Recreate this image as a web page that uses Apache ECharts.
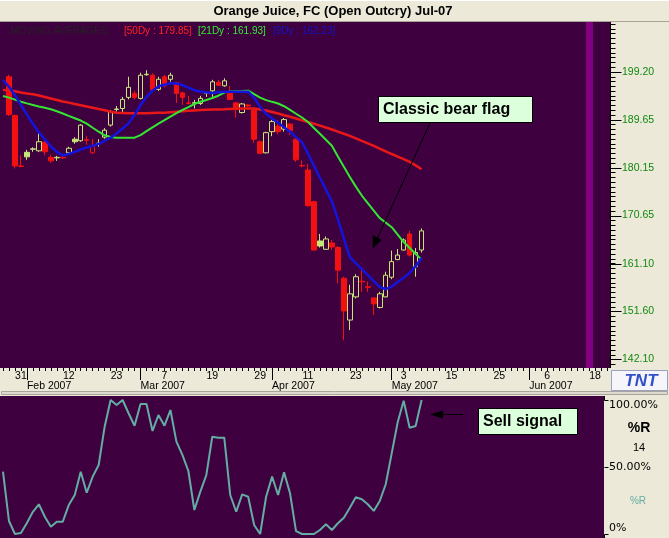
<!DOCTYPE html>
<html><head><meta charset="utf-8">
<script src="https://cdn.jsdelivr.net/npm/echarts@6/dist/echarts.min.js"></script>
<style>html,body{margin:0;padding:0;background:#ECE9D8;}#c{width:669px;height:538px;}</style>
</head><body><div id="c"></div>
<script>
// ---------- data ----------
const dates = [
'2007-01-26','2007-01-29','2007-01-30','2007-01-31',
'2007-02-01','2007-02-02','2007-02-05','2007-02-06','2007-02-07','2007-02-08','2007-02-09','2007-02-12','2007-02-13','2007-02-14','2007-02-15','2007-02-16','2007-02-20','2007-02-21','2007-02-22','2007-02-23','2007-02-26','2007-02-27','2007-02-28',
'2007-03-01','2007-03-02','2007-03-05','2007-03-06','2007-03-07','2007-03-08','2007-03-09','2007-03-12','2007-03-13','2007-03-14','2007-03-15','2007-03-16','2007-03-19','2007-03-20','2007-03-21','2007-03-22','2007-03-23','2007-03-26','2007-03-27','2007-03-28','2007-03-29','2007-03-30',
'2007-04-02','2007-04-03','2007-04-04','2007-04-05','2007-04-09','2007-04-10','2007-04-11','2007-04-12','2007-04-13','2007-04-16','2007-04-17','2007-04-18','2007-04-19','2007-04-20','2007-04-23','2007-04-24','2007-04-25','2007-04-26','2007-04-27','2007-04-30',
'2007-05-01','2007-05-02','2007-05-03','2007-05-04','2007-05-07','2007-05-08','2007-05-09','2007-05-10','2007-05-11','2007-05-14','2007-05-15','2007-05-16','2007-05-17','2007-05-18','2007-05-21','2007-05-22','2007-05-23','2007-05-24','2007-05-25','2007-05-28','2007-05-29','2007-05-30','2007-05-31',
'2007-06-01','2007-06-04','2007-06-05','2007-06-06','2007-06-07','2007-06-08','2007-06-11','2007-06-12','2007-06-13','2007-06-14','2007-06-15','2007-06-18','2007-06-19','2007-06-20'];

const open  = [null,198.2,190.5,180.5,183.2,183.8,183.5,185.2,182.2,182.1,182.2,183.1,185.8,185.5,185.7,183.1,184.9,186.2,188.6,191.7,191.9,194.1,194.9,193.9,198.6,198.5,195.7,198.2,197.7,197.0,195.0,193.0,192.95,192.9,195.0,195.4,197.1,196.4,194.9,193.0,191.1,192.6,191.6,185.3,183.1,187.3,188.4,187.8,188.8,185.8,180.6,179.7,173.4,165.6,163.95,165.2,164.3,158.2,149.9,154.5,157.6,156.5,154.3,152.4,154.5,158.4,161.9,163.8,167.0,160.5,163.8];
const close = [null,190.7,180.5,180.4,182.3,183.9,185.3,183.3,181.5,182.2,182.1,184.0,185.3,188.6,185.6,184.4,185.0,187.6,191.3,191.8,193.7,196.1,194.1,198.5,198.7,195.6,197.7,196.4,198.5,194.9,194.1,192.9,193.05,193.9,194.9,197.2,196.5,197.4,193.7,192.1,192.8,192.4,185.8,183.0,187.1,189.3,187.3,189.7,187.5,181.7,180.5,172.6,163.8,164.6,166.0,164.4,159.8,151.7,155.1,158.5,157.5,156.4,153.1,155.1,158.8,161.5,162.8,165.8,162.8,163.3,167.6];
const low   = [null,190.4,180.0,180.2,181.7,183.3,183.3,182.6,181.1,181.5,181.9,182.9,184.9,185.3,184.7,182.9,184.3,185.9,188.3,191.3,191.2,193.7,193.7,193.7,198.4,195.2,195.4,196.1,197.2,193.0,192.6,192.7,191.9,192.6,194.2,194.2,196.5,196.2,193.6,190.1,190.9,192.2,185.1,182.9,183.0,186.4,186.8,187.3,186.6,181.3,180.2,172.4,163.7,164.3,163.8,163.8,157.2,145.9,147.9,154.2,155.5,155.5,150.9,152.2,154.4,158.0,161.8,163.7,162.5,158.5,163.3];
const high  = [null,198.6,190.7,182.6,183.7,184.2,187.3,185.4,182.7,182.5,182.7,184.3,186.2,188.8,186.4,185.8,185.8,188.0,191.6,192.4,194.2,198.2,195.4,199.0,199.5,198.9,198.2,198.6,199.0,197.2,195.2,194.4,193.6,194.4,195.2,197.6,197.6,197.9,196.4,193.2,193.0,192.8,191.7,185.6,187.3,189.6,189.6,190.0,189.0,186.0,181.6,180.9,173.6,167.0,166.5,165.8,164.6,158.5,156.9,159.0,159.8,157.5,154.3,155.5,159.5,163.7,164.0,166.1,167.6,164.2,168.1];

const ma50 = [195.57,195.5,195.33,195.09,194.89,194.73,194.47,194.18,193.88,193.58,193.28,193.06,192.79,192.55,192.31,192.05,191.79,191.56,191.24,191.04,191.0,190.96,190.94,190.94,190.96,191.0,191.04,191.06,191.16,191.26,191.36,191.44,191.52,191.58,191.64,191.68,191.72,191.74,191.8,191.86,191.9,191.92,191.88,191.7,191.5,191.2,190.9,190.56,190.27,189.91,189.55,189.21,188.86,188.5,188.12,187.73,187.31,186.89,186.47,185.98,185.48,184.99,184.47,183.93,183.4,182.86,182.35,181.83,181.31,180.6,179.85];
const ma21 = [194.38,194.06,193.66,193.24,192.91,192.61,192.31,192.03,191.74,191.36,190.9,190.43,189.97,189.51,188.88,188.08,187.29,186.57,186.26,186.1,186.1,186.1,186.1,186.61,187.39,188.16,188.88,189.57,190.29,191.0,191.6,192.19,192.79,193.24,193.6,193.98,194.44,195.07,195.27,195.33,195.37,195.43,194.75,194.06,193.56,193.22,192.89,192.35,191.62,190.86,190.11,189.21,188.04,186.87,185.68,184.51,182.37,180.32,178.3,176.39,174.62,173.13,171.64,170.15,169.24,168.33,166.88,165.39,164.2,163.01,161.93];
const ma9  = [197.55,196.22,194.57,192.59,190.68,188.86,187.15,185.76,184.35,183.3,182.58,182.86,183.3,183.75,184.17,184.51,184.87,185.44,186.1,186.93,187.94,188.94,190.6,192.59,194.2,195.41,196.32,196.6,196.9,196.86,196.56,196.02,195.53,195.29,195.07,194.97,195.11,195.23,195.23,195.23,195.23,195.23,194.0,192.19,190.82,189.93,189.06,188.16,187.29,186.22,185.16,182.94,180.5,178.14,175.79,173.47,169.9,166.09,162.41,161.22,160.03,158.84,157.65,156.46,156.02,156.54,157.43,158.32,159.24,160.59,162.23];

const willR = [46.5,9.7,0,0.7,8.2,16.6,22.2,12.9,5.4,9.2,9.2,21.6,29.1,46.5,30.8,42.8,51.5,80.1,100,96.3,100,90.1,80.8,97,97,76.9,88.8,80.8,92.5,68.9,59,47,17.9,31.6,44,72.6,71.9,71.9,29.1,16.6,29.6,27.8,6.7,0,27.8,42.8,29.1,46,30.4,2.2,0,0,0,3,7.2,3,8,12.2,19.6,27.4,25.9,22.2,17.2,24.6,37.1,60.2,83.4,99.5,79.3,80.6,100];

const priceTicks = [142.10,151.60,161.10,170.65,180.15,189.65,199.20];
const pctTicks = [0,50,100];
const dayTicks = ['2007-01-31','2007-02-12','2007-02-23','2007-03-07','2007-03-19','2007-03-29','2007-04-11','2007-04-23','2007-05-03','2007-05-15','2007-05-25','2007-06-06','2007-06-18'];
const monthTicks = ['2007-02-01','2007-03-01','2007-04-02','2007-05-01','2007-06-01'];
const markerDate = '2007-06-15';
const monthNames = ['Jan','Feb','Mar','Apr','May','Jun','Jul','Aug','Sep','Oct','Nov','Dec'];

// ---------- styles ----------
const BG = '#3F003F', PANEL = '#ECE9D8';
const UP = '#C6E67A', DOWN = '#F21010';
const FONT = '"Liberation Sans", Arial, sans-serif';

const candleData = open.map((o, i) => {
  if (o == null) return ['-','-','-','-'];
  const prev = (i > 0 && close[i-1] != null) ? close[i-1] : o;
  const col = close[i] >= prev ? UP : DOWN;
  const fill = close[i] > o ? 'rgba(0,0,0,0)' : col;
  return {value:[o, close[i], low[i], high[i]],
          itemStyle:{color:fill, color0:fill, borderColor:col, borderColor0:col, borderWidth:1}};
});

// minor price ticks (ten per labelled step)
const step = (priceTicks[priceTicks.length-1]-priceTicks[0])/((priceTicks.length-1)*10);
const minorTicks = [];
for (let j = -1; j <= 70; j++) minorTicks.push(+(priceTicks[0] + j*step).toFixed(3));

const PMIN = 140.38, PMAX = 209.07;      // visible price range of the upper panel
const RMIN = -2.985, RMAX = 102.985;     // visible %R range of the lower panel
const G0 = {left:-2, top:22, width:612, height:346};
const G1 = {left:-2, top:396, width:606, height:142};

const chart = echarts.init(document.getElementById('c'), null, {width:669, height:538});

function txt(x, y, text, fill, font, align) {
  return {type:'text', x:x, y:y, z:50, silent:true,
    style:{text:text, fill:fill, font:font, textAlign:align||'left', align:align||'left',
           textVerticalAlign:'middle', verticalAlign:'middle'}};
}
function rect(x, y, w, h, fill, stroke, z) {
  return {type:'rect', silent:true, z:(z==null?-10:z), shape:{x:x, y:y, width:w, height:h},
    style:{fill:fill, stroke:stroke||null, lineWidth:1}};
}
function seg(x1, y1, x2, y2) {
  return {type:'line', silent:true, z:60, shape:{x1:x1, y1:y1, x2:x2, y2:y2}, style:{stroke:'#000', lineWidth:1}};
}

const last = a => a[a.length-1].toFixed(2);

const staticGraphic = [
  {type:'line', silent:true, z:-9, shape:{x1:0,y1:21.5,x2:669,y2:21.5}, style:{stroke:'#A8A496', lineWidth:1}},
  {type:'line', silent:true, z:-9, shape:{x1:0,y1:0.5,x2:669,y2:0.5}, style:{stroke:'#FFFFFF', lineWidth:1}},
  rect(1.5, 391.5, 666, 3, '#DEDAD0', '#A8A49C', -9),
  txt(333, 11, 'Orange Juice, FC (Open Outcry) Jul-07', '#000', 'bold 13px '+FONT, 'center'),
  txt(10, 31, 'MOVING AVERAGES:', '#222222', '10px '+FONT),
  txt(124, 31, '[50Dy : '+last(ma50)+']', '#FF2020', '10px '+FONT),
  txt(198, 31, '[21Dy : '+last(ma21)+']', '#33EE33', '10px '+FONT),
  txt(273, 31, '[9Dy : '+last(ma9)+']', '#1414C8', '10px '+FONT),
  rect(611.5, 370.5, 56, 20, '#F6F6FA', '#98A2C0', -8),
  txt(641, 381, 'TNT', '#2F50C8', 'italic bold 17px '+FONT, 'center'),
  txt(639, 428, '%R', '#000', 'bold 14px '+FONT, 'center'),
  txt(639, 448, '14', '#000', '11px '+FONT, 'center'),
  txt(638, 501, '%R', '#63ADA4', '10px '+FONT, 'center'),
  rect(378.5, 96.5, 154, 26, '#DCFFDC', '#000', 40),
  txt(383, 110, 'Classic bear flag', '#000', 'bold 16px '+FONT),
  {type:'line', silent:true, z:40, shape:{x1:430, y1:123, x2:377, y2:239}, style:{stroke:'#000', lineWidth:1}},
  {type:'polygon', silent:true, z:40, shape:{points:[[372.7,248.5],[372.7,235],[381.7,240]]}, style:{fill:'#000'}},
  rect(478.5, 408.5, 99, 26, '#DCFFDC', '#000', 40),
  txt(483, 421.5, 'Sell signal', '#000', 'bold 16px '+FONT),
  {type:'line', silent:true, z:40, shape:{x1:463, y1:414.5, x2:442, y2:414.5}, style:{stroke:'#000', lineWidth:1}},
  {type:'polygon', silent:true, z:40, shape:{points:[[430,414.5],[443,410.5],[443,418.5]]}, style:{fill:'#000'}}
];

chart.setOption({
  animation:false,
  backgroundColor: PANEL,
  grid:[
    Object.assign({show:true, backgroundColor:BG, borderWidth:0}, G0),
    Object.assign({show:true, backgroundColor:BG, borderWidth:0}, G1)
  ],
  xAxis:[
    {type:'category', gridIndex:0, data:dates, boundaryGap:true,
     axisLine:{show:false},
     axisTick:{show:true, interval:0, alignWithLabel:true, length:3, lineStyle:{color:'#000'}},
     axisLabel:{interval:(i,v)=>dayTicks.indexOf(v)>=0, formatter:v=>String(parseInt(v.slice(8),10)),
                color:'#000', fontSize:10.5, fontFamily:'"Liberation Sans", Arial', margin:3},
     splitLine:{show:false}},
    {type:'category', gridIndex:0, data:dates, boundaryGap:true, position:'bottom',
     axisLine:{show:false},
     axisTick:{show:true, interval:(i,v)=>monthTicks.indexOf(v)>=0, alignWithLabel:true, length:12, lineStyle:{color:'#000'}},
     axisLabel:{interval:(i,v)=>monthTicks.indexOf(v)>=0,
                formatter:v=>monthNames[parseInt(v.slice(5,7),10)-1]+' '+v.slice(0,4),
                align:'left', color:'#000', fontSize:10.5, fontFamily:'"Liberation Sans", Arial', margin:13},
     splitLine:{show:false}},
    {type:'category', gridIndex:1, data:dates.slice(0, 101), boundaryGap:true, show:false}
  ],
  yAxis:[
    {type:'value', gridIndex:0, position:'right', min:PMIN, max:PMAX,
     axisLine:{show:false}, axisTick:{show:false},
     axisLabel:{show:true, customValues:priceTicks, formatter:v=>Number(v).toFixed(2),
                color:'#118811', fontSize:10.5, fontFamily:'"Liberation Sans", Arial', margin:12},
     splitLine:{show:false}},
    {type:'value', gridIndex:1, position:'right', min:RMIN, max:RMAX,
     axisLine:{show:false}, axisTick:{show:false},
     axisLabel:{show:true, customValues:pctTicks,
                formatter:v=>(Number(v)===0?'0%':Number(v).toFixed(2)+'%'),
                verticalAlignMinLabel:'bottom', verticalAlignMaxLabel:'top',
                color:'#000', fontSize:11, fontFamily:'"DejaVu Sans", sans-serif', margin:5},
     splitLine:{show:false}}
  ],
  series:[
    {type:'candlestick', name:'OJ', xAxisIndex:0, yAxisIndex:0, data:candleData, barWidth:5, z:2,
     silent:true,
     markLine:{silent:true, symbol:['none','none'], label:{show:false},
               lineStyle:{color:'#800080', width:7, type:'solid'},
               data:[{xAxis:markerDate}]}},
    {type:'line', name:'50Dy', xAxisIndex:0, yAxisIndex:0, data:ma50, symbol:'none', z:3,
     lineStyle:{color:'#E81818', width:2.5}},
    {type:'line', name:'21Dy', xAxisIndex:0, yAxisIndex:0, data:ma21, symbol:'none', z:3,
     lineStyle:{color:'#33E633', width:2}},
    {type:'line', name:'9Dy', xAxisIndex:0, yAxisIndex:0, data:ma9, symbol:'none', z:3,
     lineStyle:{color:'#1414DC', width:2.5}},
    {type:'line', name:'%R', xAxisIndex:2, yAxisIndex:1, data:willR, symbol:'none', z:3,
     lineStyle:{color:'#63ADA4', width:2}}
  ],
  graphic: staticGraphic
});

// axis ticks placed through the axis scales (pixel y from convertToPixel)
const tickEls = [];
const xr0 = G0.left + G0.width + 0.5;
const xr1 = G1.left + G1.width + 0.5;
const yOf = (axisIdx, v) => Math.round(chart.convertToPixel({yAxisIndex:axisIdx}, v)) + 0.5;
tickEls.push(seg(xr0, G0.top, xr0, G0.top + G0.height));
priceTicks.forEach(v => { const y = yOf(0, v); tickEls.push(seg(xr0, y, xr0 + 11, y)); });
minorTicks.forEach(v => { const y = yOf(0, v); if (y > G0.top && y < G0.top + G0.height) tickEls.push(seg(xr0, y, xr0 + 5, y)); });
pctTicks.forEach(v => { const y = yOf(1, v); tickEls.push(seg(xr1, y, xr1 + 4, y)); });
const y100 = yOf(1, 100), y0 = yOf(1, 0);
tickEls.push(seg(xr1, G1.top, xr1, y100));
tickEls.push(seg(xr1, y0, xr1, G1.top + G1.height));
chart.setOption({graphic: staticGraphic.concat(tickEls)});
</script></body></html>
